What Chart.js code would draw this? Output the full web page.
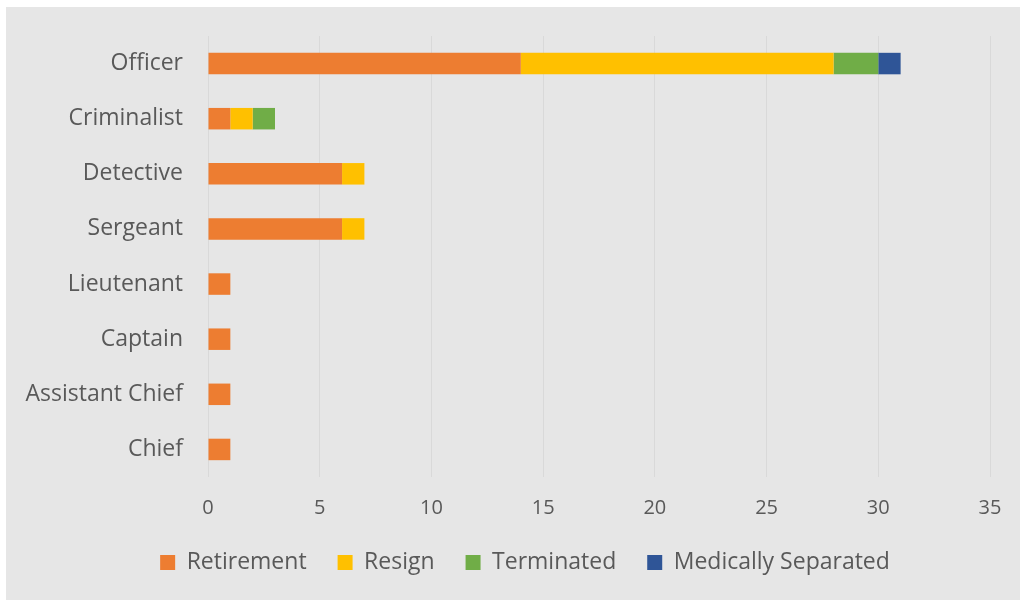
<!DOCTYPE html>
<html>
<head>
<meta charset="utf-8">
<script src="https://cdn.jsdelivr.net/npm/chart.js@4"></script>
<style>
  html, body { margin: 0; padding: 0; background: #ffffff; }
  #wrap { position: absolute; left: 6px; top: 7px; width: 1014px; height: 593px; background: #e6e6e6; }
</style>
</head>
<body>
<div id="wrap"><canvas id="separationChart" width="1014" height="593"></canvas></div>
<script>
const ranks = ["Officer", "Criminalist", "Detective", "Sergeant", "Lieutenant", "Captain", "Assistant Chief", "Chief"];
const retirement = [14, 1, 6, 6, 1, 1, 1, 1];
const resign = [14, 1, 1, 1, 0, 0, 0, 0];
const terminated = [2, 1, 0, 0, 0, 0, 0, 0];
const medicallySeparated = [1, 0, 0, 0, 0, 0, 0, 0];
const xTicks = [0, 5, 10, 15, 20, 25, 30, 35];

document.addEventListener("DOMContentLoaded", () => {
  const ctx = document.getElementById("separationChart").getContext("2d");
  const textColor = "#595959";
  const fontFamily = "'Open Sans', sans-serif";

  const bar = (label, data, color) => ({
    label: label,
    data: data,
    backgroundColor: color,
    borderWidth: 0,
    categoryPercentage: 1,
    barPercentage: 0.39,
  });

  // nudge the legend row to the right, like the original
  const legendShift = {
    id: "legendShift",
    afterLayout(chart) {
      chart.legend.left += 27;
      chart.legend.right += 27;
    },
  };

  new Chart(ctx, {
    type: "bar",
    data: {
      labels: ranks,
      datasets: [
        bar("Retirement", retirement, "#ED7D31"),
        bar("Resign", resign, "#FFC000"),
        bar("Terminated", terminated, "#70AD47"),
        bar("Medically Separated", medicallySeparated, "#2F5597"),
      ],
    },
    options: {
      indexAxis: "y",
      responsive: false,
      animation: false,
      layout: { padding: { left: 0, right: 30, top: 29, bottom: 16 } },
      scales: {
        x: {
          stacked: true,
          min: 0,
          max: 35,
          afterBuildTicks: (scale) => { scale.ticks = xTicks.map((v) => ({ value: v })); },
          afterFit: (scale) => {
            scale.height = 43;
            scale.paddingLeft = 0;
            scale.paddingRight = 0;
          },
          grid: { color: "#d9d9d9", lineWidth: 1, drawTicks: false },
          border: { display: false },
          ticks: { color: textColor, font: { family: fontFamily, size: 20 }, padding: 19 },
        },
        y: {
          stacked: true,
          afterFit: (scale) => {
            scale.width = 202;
            scale.paddingTop = 0;
            scale.paddingBottom = 0;
          },
          grid: { display: false, drawTicks: false },
          border: { display: false },
          ticks: { color: textColor, font: { family: fontFamily, size: 23 }, padding: 25 },
        },
      },
      plugins: {
        legend: {
          display: true,
          position: "bottom",
          labels: {
            boxWidth: 15,
            boxHeight: 15,
            padding: 31,
            color: textColor,
            font: { family: fontFamily, size: 23 },
          },
        },
        tooltip: { enabled: false },
      },
    },
    plugins: [legendShift],
  });
});
</script>
</body>
</html>
